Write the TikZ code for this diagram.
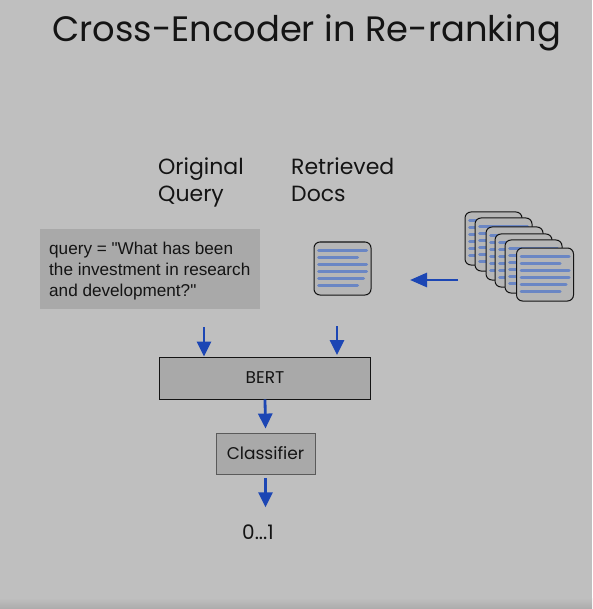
\documentclass[tikz,border=0pt]{standalone}
\usepackage{fontspec}
\setmainfont{Poppins}
\newfontfamily\arialfont{Liberation Sans}
\usetikzlibrary{positioning, arrows.meta}
\definecolor{slideBack}{HTML}{BFBFBF}
\definecolor{boxFill}{HTML}{A9A9A9}
\definecolor{cardFill}{HTML}{B6B6B6}
\definecolor{flowBlue}{HTML}{1C46B4}
\definecolor{lineBlue}{HTML}{6A86C4}
\definecolor{inkDark}{HTML}{141414}
\tikzset{
  labeltext/.style={anchor=base west, inner sep=0pt, align=left, text=inkDark, font=\fontsize{22}{27}\selectfont},
  blockbox/.style={draw=inkDark, fill=boxFill, line width=0.9pt, inner sep=0pt, text=inkDark, font=\fontsize{17}{20}\selectfont},
  doccard/.style={draw=inkDark, fill=cardFill, line width=1pt, rounded corners=6pt, minimum width=57pt, minimum height=53pt, inner sep=0pt},
  flowarrow/.style={draw=flowBlue, line width=2.8pt, -{Triangle[length=15pt, width=14pt]}},
}
% one card with its six text lines, #1 = name, #2 = centre
\newcommand{\doccardat}[2]{
  \node[doccard] (#1) at (#2) {};
  \foreach \dy/\len in {8.7/50, 15.7/41, 22.7/50, 29.7/50, 36.7/47, 43.7/41}{
    \draw[lineBlue, line width=3pt, line cap=round] ([xshift=5pt, yshift=-\dy pt]#1.north west) -- ++(\len pt-2pt,0);
  }
}
\begin{document}
\begin{tikzpicture}[x=1pt, y=-1pt]
  \useasboundingbox (0,0) rectangle (592,609);
  \fill[slideBack] (0,0) rectangle (592,609);
  \shade[top color=slideBack, bottom color=boxFill!90!slideBack] (0,598) rectangle (592,609);

  \node[labeltext, font=\fontsize{35.3}{40}\selectfont] (title) at (52,42) {Cross-Encoder in Re-ranking};
  \node[labeltext] (queryLabel) at (158,202) {Original\\Query};
  \node[labeltext] (docsLabel) at (291,202) {Retrieved\\Docs};

  \node[fill=boxFill, minimum width=220pt, minimum height=80pt, inner sep=0pt] (queryBox) at (150,269) {};
  \node[anchor=west, inner sep=0pt, align=left, text=inkDark, font=\arialfont\fontsize{17.15}{20.7}\selectfont] (queryText) at (49,271) {query = "What has been\\the investment in research\\and development?"};

  % the pile of documents, back to front
  \foreach \name/\cx/\cy in {docA/493.5/238.5, docB/503.5/244.5, docC/514.5/253.5, docD/523.5/260.5, docE/533.5/266.5, docF/545/274.5}{
    \doccardat{\name}{\cx,\cy}
  }
  \doccardat{singleDoc}{342.5,268.5}

  \node[blockbox, minimum width=211pt, minimum height=42pt] (bert) at (265,378) {BERT};
  \node[blockbox, draw=inkDark!70, minimum width=99pt, minimum height=41pt] (classifier) at (265.5,453.5) {Classifier};
  \node[inner sep=0pt, text=inkDark, font=\fontsize{20}{24}\selectfont] (score) at (258,532) {0...1};

  \coordinate (pileOut) at (458,280);
  \coordinate (singleIn) at (410,280);
  \coordinate (queryFoot) at (204,327);
  \coordinate (docFoot) at (337,326);
  \draw[flowarrow, -{Triangle[length=17pt, width=14pt]}] (pileOut) -- (singleIn);
  \draw[flowarrow] (queryFoot) -- (queryFoot |- bert.north);
  \draw[flowarrow] (docFoot) -- ([yshift=1.5pt]docFoot |- bert.north);
  \draw[flowarrow] (bert.south) -- ([yshift=4pt]classifier.north);
  \draw[flowarrow] ([yshift=-4pt]classifier.south) -- ([yshift=17pt]score.north -| classifier.south);
\end{tikzpicture}
\end{document}
